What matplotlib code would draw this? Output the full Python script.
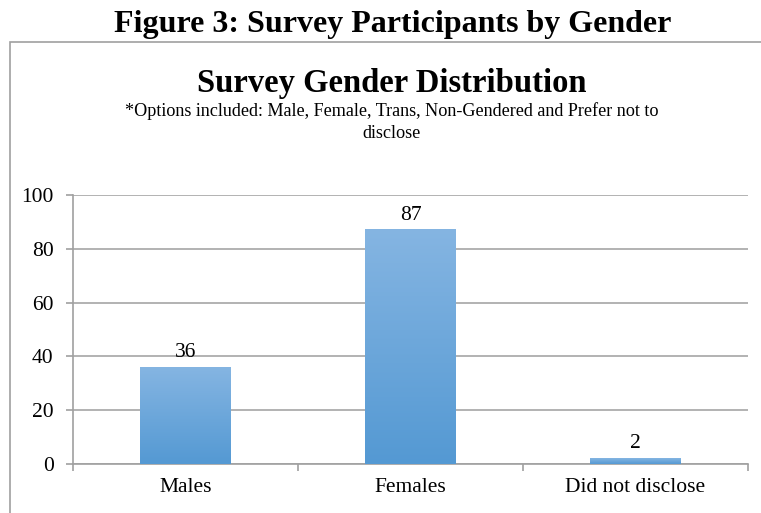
import numpy as np
import matplotlib.pyplot as plt
from matplotlib.colors import LinearSegmentedColormap
from matplotlib.patches import Rectangle

categories = ["Males", "Females", "Did not disclose"]
counts = [36, 87, 2]
y_ticks = [0, 20, 40, 60, 80, 100]

plt.rcParams["font.family"] = ["Liberation Serif", "DejaVu Serif"]

fig = plt.figure(figsize=(7.61, 5.13), dpi=100)
ax = fig.add_axes([0.0959, 0.0955, 0.887, 0.5245])

# chart frame
fig.patches.append(Rectangle((10 / 761, -0.05), 1.0, 1 - 42 / 513 + 0.05,
                             transform=fig.transFigure, fill=False,
                             edgecolor="#a0a0a0", linewidth=1.2))

fig.text(0.516, 0.953, "Figure 3: Survey Participants by Gender",
         ha="center", va="center", fontsize=23, fontweight="bold")
fig.text(0.515, 0.838, "Survey Gender Distribution",
         ha="center", va="center", fontsize=23.5, fontweight="bold")
fig.text(0.515, 0.783, "*Options included: Male, Female, Trans, Non-Gendered and Prefer not to",
         ha="center", va="center", fontsize=13.1)
fig.text(0.515, 0.740, "disclose", ha="center", va="center", fontsize=13.1)

cmap = LinearSegmentedColormap.from_list("bar", ["#5499d3", "#85b5e2"])
grad = np.linspace(0, 1, 256).reshape(-1, 1)
width = 0.4
x = np.arange(len(categories))
bars = ax.bar(x, counts, width=width, color="none", zorder=3)
for b, v in zip(bars, counts):
    x0 = b.get_x()
    ax.imshow(grad, extent=(x0, x0 + width, 0, v), origin="lower",
              cmap=cmap, aspect="auto", zorder=3)
    ax.text(b.get_x() + width / 2, v + 2, str(v), ha="center", va="bottom",
            fontsize=15.5)

ax.set_xlim(-0.5, 2.5)
ax.set_ylim(0, 100)
ax.set_yticks(y_ticks)
ax.set_xticks(x)
ax.set_xticklabels(categories)
ax.set_xticks([-0.5, 0.5, 1.5, 2.5], minor=True)
ax.tick_params(axis="x", which="major", length=0, pad=10, labelsize=15.5)
ax.tick_params(axis="x", which="minor", length=5, color="#a0a0a0", width=1.2)
ax.tick_params(axis="y", length=5, color="#a0a0a0", width=1.2, labelsize=15.5, pad=9)
ax.grid(axis="y", color="#a6a6a6", linewidth=1.2, zorder=0)
ax.set_axisbelow(True)
for s in ["top", "right"]:
    ax.spines[s].set_visible(False)
for s in ["left", "bottom"]:
    ax.spines[s].set_color("#a0a0a0")
    ax.spines[s].set_linewidth(1.2)

fig.savefig("out.png", dpi=100)
